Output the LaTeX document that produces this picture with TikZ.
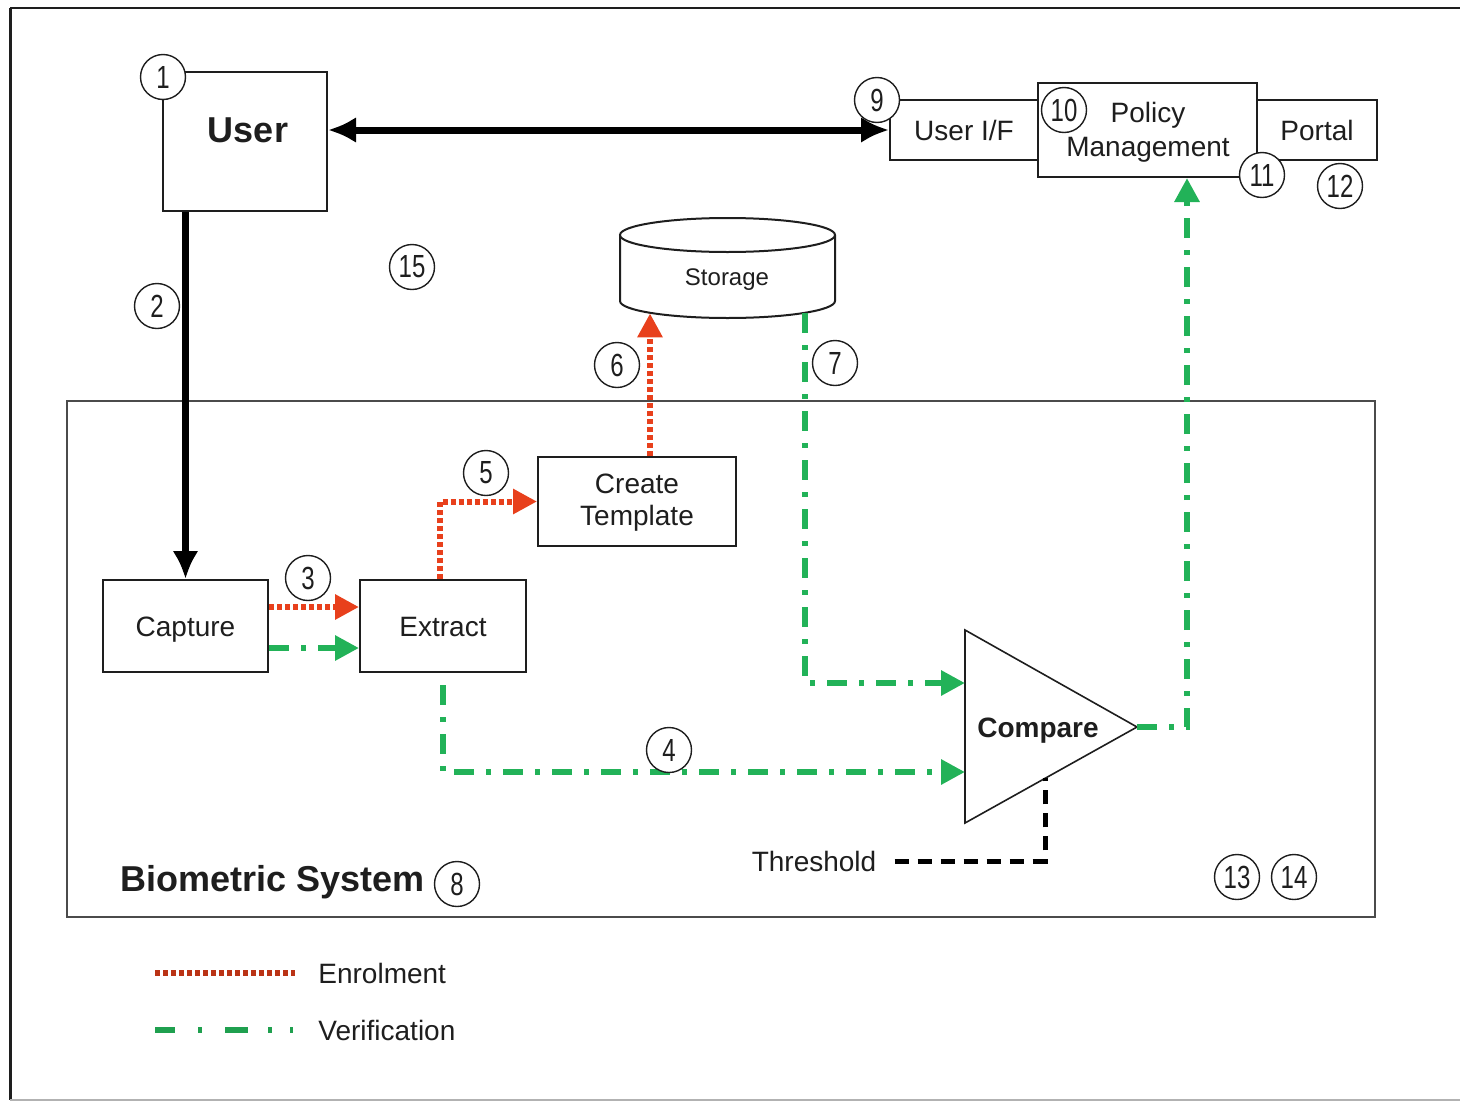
\documentclass[tikz,border=0pt]{standalone}
\usepackage{fontspec}
\setmainfont{Liberation Sans}
\newfontfamily\numfont[FakeStretch=0.75]{Liberation Sans}
\usetikzlibrary{arrows.meta,calc}
\definecolor{enrol}{RGB}{232,64,28}
\definecolor{verif}{RGB}{34,178,88}
\definecolor{ink}{RGB}{30,30,30}
\begin{document}
\begin{tikzpicture}[x=0.5pt,y=-0.5pt,
  box/.style={draw=ink,line width=1pt,fill=white,inner sep=0pt,align=center,
    font=\fontsize{14pt}{17pt}\selectfont,text=ink},
  onetext/.style={text height=10pt,text depth=0pt},
  badge/.style={circle,draw=ink,line width=0.7pt,fill=white,minimum size=22.5pt,
    inner sep=0pt,font=\numfont\fontsize{16pt}{16pt}\selectfont,text=ink},
  lbl/.style={inner sep=0pt,text=ink,font=\fontsize{14pt}{17pt}\selectfont,align=center},
  enrolline/.style={draw=enrol,line width=3pt,dash pattern=on 2.5pt off 1.5pt},
  verifline/.style={draw=verif,line width=3pt,dash pattern=on 10pt off 6pt on 2.5pt off 6pt},
  ctip/.style={-{Triangle[length=12pt,width=12pt]}},
  bigline/.style={draw=black,line width=3.5pt},
  bigtip/.style={-{Latex[length=14pt,width=13pt]}},
  bigtips/.style={{Latex[length=14pt,width=13pt]}-{Latex[length=14pt,width=13pt]}},
  thrline/.style={draw=black,line width=2.5pt,dash pattern=on 7pt off 4.5pt}
]
\useasboundingbox (0,0) rectangle (1460,1103);
% outer frame
\draw[ink,line width=1pt] (10,8) -- (1460,8);
\draw[ink,line width=1.5pt] (10,8) -- (10,1100);
\draw[gray!60,line width=0.8pt] (10,1100) -- (1460,1100);

% biometric system frame
\node[draw=ink!80,line width=1pt,minimum width=654pt,minimum height=258pt,inner sep=0pt] (bio) at (721,659) {};
\node[lbl,anchor=west,font=\bfseries\fontsize{18pt}{20pt}\selectfont] (biotxt) at (120,882) {Biometric System};

% boxes
\node[box,minimum width=82pt,minimum height=69.5pt] (user) at (245,141.5) {};
\node[lbl,font=\bfseries\fontsize{18pt}{20pt}\selectfont] (usertxt) at (248,130) {User};
\node[box,onetext,minimum width=74pt,minimum height=30pt] (uif) at (964,130) {User I/F};
\node[box,minimum width=109.5pt,minimum height=47pt] (pol) at (1147.5,130) {};
\node[lbl] (poltxt) at (1148,132) {Policy\\Management};
\node[box,onetext,minimum width=60pt,minimum height=30pt] (portal) at (1317,130) {Portal};
\node[box,minimum width=99pt,minimum height=44.5pt] (ct) at (637,501.5) {};
\node[lbl,font=\fontsize{14pt}{16pt}\selectfont] (cttxt) at (637,503) {Create\\Template};
\node[box,onetext,minimum width=82.5pt,minimum height=46pt] (cap) at (185.5,626) {Capture};
\node[box,onetext,minimum width=83pt,minimum height=46pt] (ext) at (443,626) {Extract};

% storage cylinder
\draw[ink,line width=1pt,fill=white] (620,235) -- (620,301)
  arc[start angle=180,end angle=360,x radius=53.75pt,y radius=8.5pt] -- (835,235);
\draw[ink,line width=1pt,fill=white] (727.5,235) ellipse[x radius=53.75pt,y radius=8.5pt];
\node[inner sep=0pt,minimum width=107.5pt,minimum height=47.5pt] (storage) at (727.5,265.5) {};
\node[lbl,font=\fontsize{12pt}{14pt}\selectfont,text height=8.6pt,text depth=0pt] (stortxt) at (727,277) {Storage};

% compare triangle
\coordinate (cmpA) at (965,630);
\coordinate (cmpB) at (965,823);
\coordinate (cmptip) at (1137,727);
\draw[ink,line width=0.8pt,fill=white] (cmpA) -- (cmptip) -- (cmpB) -- cycle;
\node[lbl,font=\bfseries\fontsize{14pt}{17pt}\selectfont,text height=10pt,text depth=0pt] (cmp) at (1038,727) {Compare};
\coordinate (cmpin1) at (965,683);
\coordinate (cmpin2) at (965,772);
\coordinate (thrin) at (1045,778);

% threshold
\node[lbl,text height=10pt,text depth=0pt] (thr) at (814,861) {Threshold};
\draw[thrline] ([xshift=9pt]thr.east) -| (thrin);

% connectors
\draw[bigline,bigtips] (user.east |- uif.west) -- (uif.west);
\draw[bigline,bigtip] (cap.north |- user.south) -- (cap.north);
\draw[enrolline,ctip] ([yshift=9.5pt]cap.east) -- ([yshift=9.5pt]ext.west);
\draw[verifline,ctip] ([yshift=-11pt]cap.east) -- ([yshift=-11pt]ext.west);
\draw[enrolline,ctip] ([xshift=-1.5pt]ext.north) |- (ct.west);
\draw[enrolline,ctip] ([xshift=6.5pt]ct.north) -- ([xshift=6.5pt]ct.north |- storage.south);
\draw[verifline,ctip] ([xshift=38.75pt]storage.south) |- (cmpin1);
\draw[verifline,ctip] ([yshift=-6pt]ext.south) |- (cmpin2);
\draw[verifline,ctip] (cmptip) -| ([xshift=19.75pt]pol.south);

% badges
\node[badge] (n1) at (163,77) {1};
\node[badge] (n2) at (157,306) {2};
\node[badge] (n3) at (308,578) {3};
\node[badge] (n4) at (669,750) {4};
\node[badge] (n5) at (486,473) {5};
\node[badge] (n6) at (617,365) {6};
\node[badge] (n7) at (835,363) {7};
\node[badge] (n8) at (457,884) {8};
\node[badge] (n9) at (877,100) {9};
\node[badge] (n10) at (1064,110) {10};
\node[badge] (n11) at (1262,175) {11};
\node[badge] (n12) at (1340,186) {12};
\node[badge] (n13) at (1237,877) {13};
\node[badge] (n14) at (1294,877) {14};
\node[badge] (n15) at (412,267) {15};

% legend
\coordinate (le1) at (155,973);
\coordinate (le2) at (295,973);
\coordinate (lv1) at (155,1030);
\coordinate (lv2) at (295,1030);
\draw[enrolline,draw=enrol!80!black] (le1) -- (le2);
\draw[verifline,draw=verif!90!black,dash pattern=on 10pt off 11.5pt on 2pt off 11.5pt on 11.5pt off 10pt on 2pt off 9pt on 1.5pt off 30pt] (lv1) -- (lv2);
\node[lbl,anchor=west] (lenrol) at (318,973) {Enrolment};
\node[lbl,anchor=west] (lverif) at (318,1030) {Verification};
\end{tikzpicture}
\end{document}
